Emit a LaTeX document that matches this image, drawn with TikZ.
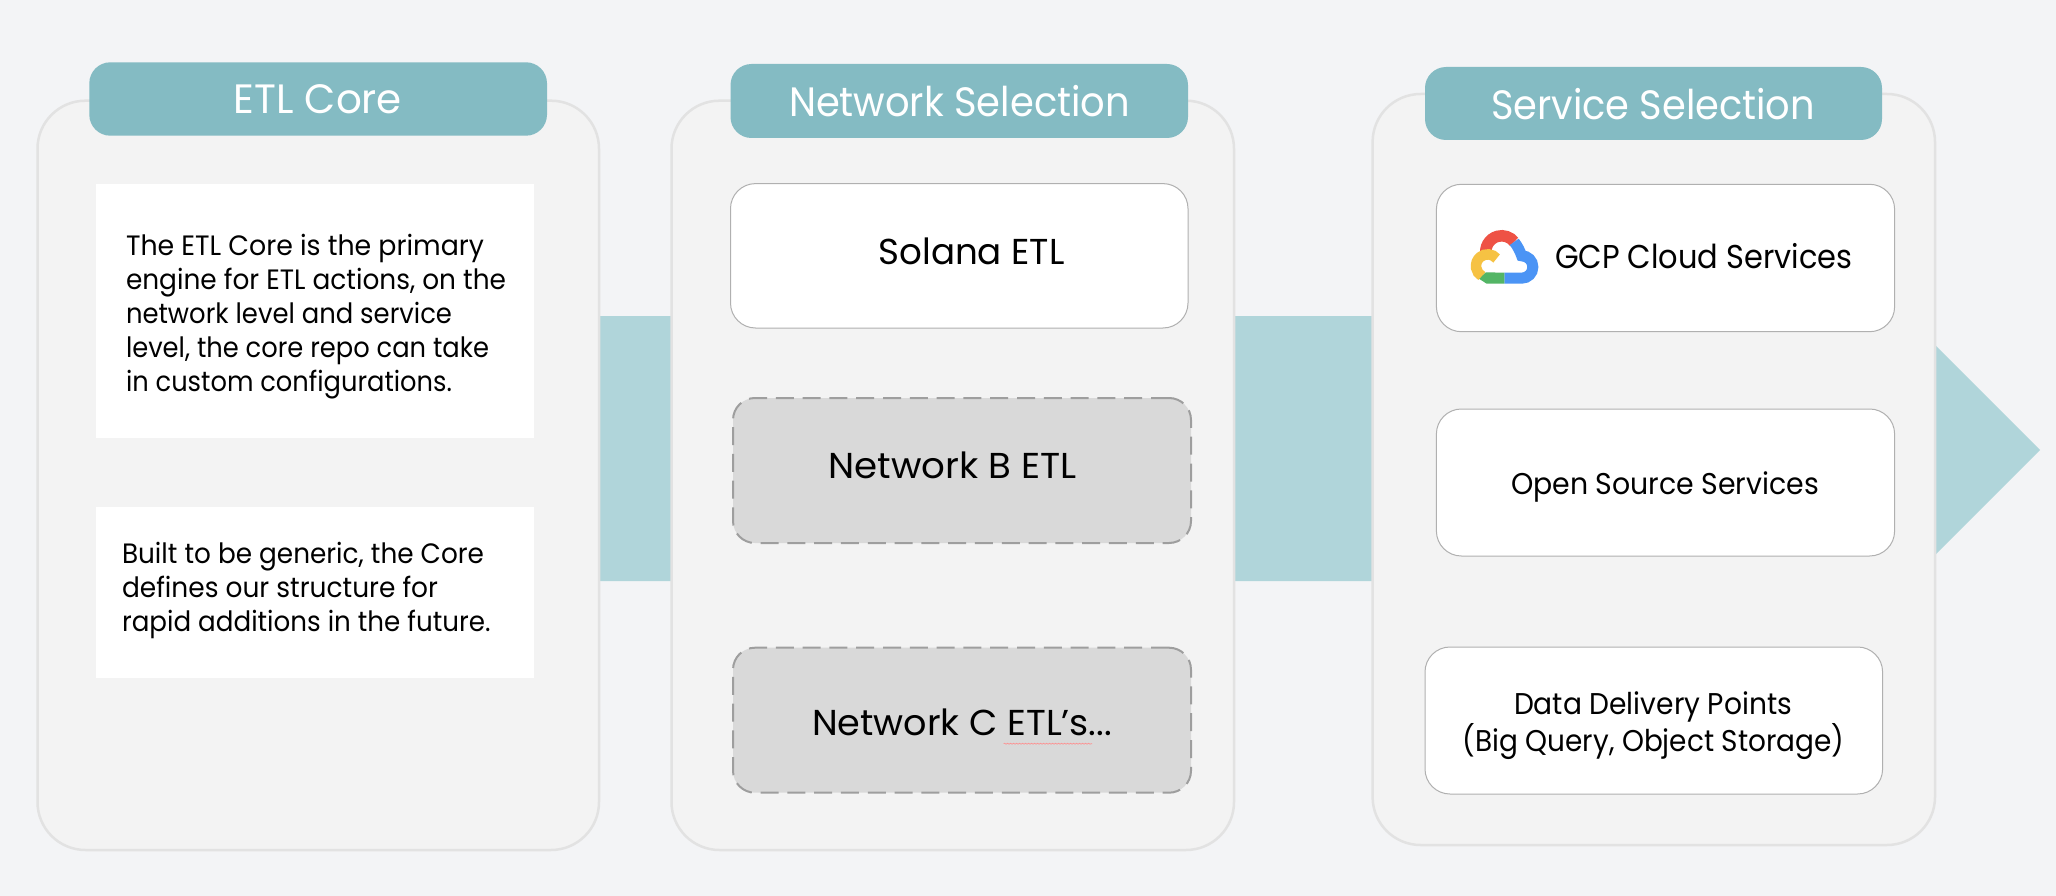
\documentclass[tikz,border=0pt]{standalone}
\usepackage{fontspec}
\usepackage{graphicx}
\usetikzlibrary{decorations.pathmorphing}
\setmainfont{Poppins}
\definecolor{bgc}{HTML}{F3F4F6}
\definecolor{panelc}{HTML}{F3F3F3}
\definecolor{panelb}{HTML}{E2E2E2}
\definecolor{headc}{HTML}{84BBC3}
\definecolor{bandc}{HTML}{B0D5DA}
\definecolor{boxb}{HTML}{B0B0B0}
\definecolor{dashf}{HTML}{D9D9D9}
\definecolor{dashb}{HTML}{9E9E9E}
\definecolor{gred}{HTML}{EE5245}
\definecolor{gyel}{HTML}{F6C243}
\definecolor{ggrn}{HTML}{53B565}
\definecolor{gblu}{HTML}{4B94F5}
\tikzset{
  x=1pt,y=-1pt,
  panelbox/.style={draw=panelb,fill=panelc,line width=2.5pt,rounded corners=48pt},
  headbox/.style={fill=headc,rounded corners=21pt},
  sheet/.style={fill=white},
  whitebox/.style={draw=boxb,fill=white,line width=1pt,rounded corners=25pt},
  dashbox/.style={draw=dashb,fill=dashf,line width=2pt,rounded corners=22pt,dash pattern=on 18pt off 8.8pt},
  lbl/.style={inner sep=0pt,outer sep=0pt,text=black},
  logopart/.style={line width=11pt,line cap=butt}
}
% name, style, x1, y1, x2, y2
\newcommand\bx[6]{\node[#2,inner sep=0pt,minimum width={(#5-#3)*1pt},minimum height={(#6-#4)*1pt}] (#1) at ({(#3+#5)/2},{(#4+#6)/2}) {};}
% name, anchor, x, baseline y, target width, text (already with font)
\newcommand\txt[6]{\node[lbl,anchor=#2] (#1) at (#3,#4) {\resizebox{#5pt}{\height}{#6}};}
\newcommand\rw[2]{\resizebox{#1pt}{\height}{#2}}
\newcommand\body{\fontsize{28}{34}\selectfont}
\newcommand\head{\fontsize{41}{46}\selectfont\color{white}}
\begin{document}
\begin{tikzpicture}
\fill[bgc] (0,0) rectangle (2056,896);
\useasboundingbox (0,0) rectangle (2056,896);
% band arrow
\fill[bandc] (590,316) -- (1906,316) -- (2040,450) -- (1906,584) -- (1400,581) -- (590,581) -- cycle;
% panels
\bx{p1}{panelbox}{37.5}{100.7}{599}{850}
\bx{p2}{panelbox}{671.5}{100.7}{1234}{850}
\bx{p3}{panelbox}{1372.6}{94}{1935}{845}
% headers
\bx{h1}{headbox}{89.3}{62.3}{547}{135.7}
\bx{h2}{headbox}{730.5}{64}{1188}{138}
\bx{h3}{headbox}{1425}{67}{1882}{140}
\txt{h1t}{base}{318}{114}{168}{\head ETL Core}
\txt{h2t}{base}{959.5}{117}{341}{\head Network Selection}
\txt{h3t}{base}{1653}{120}{324}{\head Service Selection}
% first column
\bx{s1}{sheet}{96.4}{184}{534}{437.7}
\bx{s2}{sheet}{96}{507.4}{533.6}{678}
\txt{s1t}{base west}{126}{255}{380}{\body\begin{tabular}[t]{@{}l@{}}\rw{358}{The ETL Core is the primary}\\\rw{380}{engine for ETL actions, on the}\\\rw{326}{network level and service}\\\rw{363}{level, the core repo can take}\\\rw{326}{in custom configurations.}\end{tabular}}
\txt{s2t}{base west}{122}{563.5}{368.5}{\body\begin{tabular}[t]{@{}l@{}}\rw{362}{Built to be generic, the Core}\\\rw{316}{defines our structure for}\\\rw{368.5}{rapid additions in the future.}\end{tabular}}
% second column
\bx{n1}{whitebox}{730.5}{183.6}{1188}{328}
\bx{n2}{dashbox}{733}{398}{1191}{543}
\bx{n3}{dashbox}{733}{647.7}{1191}{792.7}
\txt{n1t}{base}{971.5}{264}{186}{\fontsize{36}{40}\selectfont Solana ETL}
\txt{n2t}{base}{952.5}{478}{248}{\fontsize{36}{40}\selectfont Network B ETL}
\txt{n3t}{base west}{812}{735}{300}{\fontsize{36}{40}\selectfont Network C ETL’s...}
\coordinate (sq1) at (1003.6,743.7);
\coordinate (sq2) at (1092,743.7);
\draw[decorate,decoration={snake,amplitude=.5pt,segment length=3pt},draw=red!45,line width=.6pt] (sq1) -- (sq2);
% third column
\bx{c1}{whitebox}{1436.4}{184.3}{1894.6}{331.7}
\bx{c2}{whitebox}{1436.4}{409}{1894.6}{556}
\bx{c3}{whitebox}{1425}{647}{1882.6}{794}
\txt{c1t}{base west}{1555}{269}{297.5}{\fontsize{33}{38}\selectfont GCP Cloud Services}
\txt{c2t}{base}{1665}{494}{308}{\fontsize{30}{36}\selectfont Open Source Services}
\txt{c3t}{base}{1653}{714.5}{278}{\fontsize{30}{36}\selectfont Data Delivery Points}
\txt{c3u}{base}{1653.5}{751}{381.5}{\fontsize{30}{36}\selectfont (Big Query, Object Storage)}
% cloud logo
\draw[logopart,line width=11.5pt,gred] (1486.31,255.79) arc[start angle=195,end angle=38,radius=15.9pt];
\draw[logopart,gblu] (1514.2,241.9) .. controls (1517.5,246.1) and (1520,251) .. (1521.67,255.8) arc[start angle=90,end angle=-90,radius=11.2pt] -- (1504.33,278.2);
\fill[ggrn] (1504.33,272.7) -- (1504.33,283.7) -- (1486.67,283.7) -- (1478.3,278.3) -- (1486,272.3) -- cycle;
\draw[logopart,line width=10.5pt,gyel] (1496.6,258.5) arc[start angle=40,end angle=240,radius=11.67pt];
\end{tikzpicture}
\end{document}
